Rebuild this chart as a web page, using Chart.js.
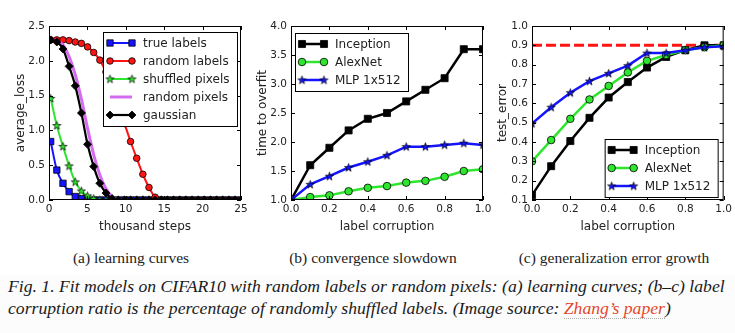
<!DOCTYPE html>
<html>
<head>
<meta charset="utf-8">
<script src="https://cdn.jsdelivr.net/npm/chart.js@4.4.1/dist/chart.umd.min.js"></script>
<style>
  body { margin: 0; background: #fcfcfc; }
  #page { position: relative; width: 735px; height: 333px; overflow: hidden; }
  #figure { position: absolute; left: 0; top: 0; width: 735px; height: 274px; background: #fff; }
  canvas { position: absolute; top: 0; }
  .sub { position: absolute; top: 248px; width: 220px; height: 20px; line-height: 20px;
         font-family: "Liberation Serif", serif; font-size: 15.5px; color: #222;
         text-align: center; white-space: nowrap; }
  .cap { position: absolute; left: 8px; height: 20px; line-height: 20px;
         font-family: "Liberation Serif", serif; font-style: italic; font-size: 17px;
         color: #1a1a1a; white-space: nowrap; }
  .cap a { color: #e3482c; text-decoration: none; border-bottom: 1px dotted #aaa; }
</style>
</head>
<body>
<div id="page">
  <div id="figure"></div>
  <canvas id="chartA" width="260" height="235" style="left:0px"></canvas>
  <canvas id="chartB" width="255" height="235" style="left:245px"></canvas>
  <canvas id="chartC" width="255" height="235" style="left:480px"></canvas>
  <div class="sub" style="left:21px">(a) learning curves</div>
  <div class="sub" style="left:263px">(b) convergence slowdown</div>
  <div class="sub" style="left:504px">(c) generalization error growth</div>
  <div class="cap" id="cap1" style="top:276px">Fig. 1. Fit models on CIFAR10 with random labels or random pixels: (a) learning curves; (b–c) label</div>
  <div class="cap" id="cap2" style="top:298px">corruption ratio is the percentage of randomly shuffled labels. (Image source: <a>Zhang’s paper</a>)</div>
</div>
<script>
// (a) learning curves, x in thousand steps
const steps = [0.22, 1.02, 1.82, 2.62, 3.42, 4.22, 5.02, 5.82, 6.62, 7.42, 8.22, 9.02, 9.82, 10.62, 11.42, 12.22,
               13.02, 13.82, 14.62, 15.42, 16.22, 17.02, 17.82, 18.62, 19.42, 20.22, 21.02, 21.82, 22.62, 23.42, 24.22, 25.02];
const trueLabels = [0.84, 0.43, 0.24, 0.12, 0.05, 0.02, 0.01, 0, 0, 0, 0, 0, 0, 0, 0, 0,
                    0, 0, 0, 0, 0, 0, 0, 0, 0, 0, 0, 0, 0, 0, 0, 0];
const randomLabels = [2.30, 2.30, 2.30, 2.29, 2.27, 2.25, 2.20, 2.12, 2.01, 1.84, 1.62, 1.37, 1.10, 0.84, 0.60, 0.37,
                      0.18, 0.04, 0, 0, 0, 0, 0, 0, 0, 0, 0, 0, 0, 0, 0, 0];
const shuffledPixels = [1.46, 1.07, 0.77, 0.49, 0.26, 0.13, 0.06, 0.02, 0, 0, 0, 0, 0, 0, 0, 0,
                        0, 0, 0, 0, 0, 0, 0, 0, 0, 0, 0, 0, 0, 0, 0, 0];
const randomPixels = [2.30, 2.29, 2.23, 2.06, 1.80, 1.45, 1.03, 0.65, 0.36, 0.16, 0.05, 0.01, 0, 0, 0, 0,
                      0, 0, 0, 0, 0, 0, 0, 0, 0, 0, 0, 0, 0, 0, 0, 0];
const gaussian = [2.30, 2.27, 2.17, 1.92, 1.64, 1.25, 0.80, 0.48, 0.24, 0.10, 0.02, 0, 0, 0, 0, 0,
                  0, 0, 0, 0, 0, 0, 0, 0, 0, 0, 0, 0, 0, 0, 0, 0];
const stepTicks = [0, 5, 10, 15, 20, 25];
const lossTicks = [0.0, 0.5, 1.0, 1.5, 2.0, 2.5];

// (b) and (c), x = label corruption
const corruption = [0.0, 0.1, 0.2, 0.3, 0.4, 0.5, 0.6, 0.7, 0.8, 0.9, 1.0];
const inceptionTime = [1.0, 1.6, 1.9, 2.2, 2.4, 2.5, 2.7, 2.9, 3.1, 3.6, 3.6];
const alexnetTime = [1.0, 1.05, 1.08, 1.15, 1.21, 1.24, 1.30, 1.33, 1.40, 1.50, 1.53];
const mlpTime = [1.0, 1.27, 1.41, 1.56, 1.66, 1.77, 1.92, 1.92, 1.95, 1.98, 1.95];
const inceptionErr = [0.125, 0.275, 0.405, 0.525, 0.63, 0.71, 0.785, 0.84, 0.875, 0.90, 0.90];
const alexnetErr = [0.30, 0.41, 0.52, 0.62, 0.69, 0.76, 0.82, 0.85, 0.875, 0.89, 0.90];
const mlpErr = [0.495, 0.58, 0.655, 0.715, 0.755, 0.795, 0.86, 0.86, 0.875, 0.89, 0.895];
const chanceError = 0.9;
const fracTicks = [0.0, 0.2, 0.4, 0.6, 0.8, 1.0];
const timeTicks = [1.0, 1.5, 2.0, 2.5, 3.0, 3.5, 4.0];
const errTicks = [0.1, 0.2, 0.3, 0.4, 0.5, 0.6, 0.7, 0.8, 0.9, 1.0];

const blue = '#1414ff', red = '#ff1414', green = '#2ee62e', violet = '#d56cf0', black = '#000';
const ink = '#222';
const tickFont = {family: 'DejaVu Sans', size: 10.5};
const titleFont = {family: 'DejaVu Sans', size: 12};

function starImage(fill) {
  const c = document.createElement('canvas');
  c.width = c.height = 11;
  const g = c.getContext('2d');
  g.beginPath();
  for (let i = 0; i < 10; i++) {
    const r = i % 2 ? 1.7 : 4.3, a = -Math.PI / 2 + i * Math.PI / 5;
    g.lineTo(5.5 + r * Math.cos(a), 5.8 + r * Math.sin(a));
  }
  g.closePath();
  g.fillStyle = fill; g.fill();
  g.strokeStyle = '#000'; g.lineWidth = 0.7; g.stroke();
  return c;
}

function series(label, xs, ys, style) {
  return Object.assign({
    label, data: xs.map((x, i) => ({x, y: ys[i]})),
    fill: false, pointHoverRadius: 0, pointBorderColor: '#000', pointBorderWidth: 0.8
  }, style);
}

function xAxis(min, max, values, digits, title) {
  return {
    type: 'linear', min, max,
    grid: {display: false, drawTicks: false}, border: {display: false},
    afterBuildTicks: s => { s.ticks = values.map(v => ({value: v})); },
    afterFit: s => { s.height = 35; },
    ticks: {padding: 3, color: ink, font: tickFont, maxRotation: 0, autoSkip: false,
            callback: v => v.toFixed(digits)},
    title: {display: true, text: title, color: ink, font: titleFont, padding: {top: 0, bottom: 0.5}}
  };
}

function yAxis(min, max, values, width, titlePad, title) {
  return {
    type: 'linear', min, max,
    grid: {display: false, drawTicks: false}, border: {display: false},
    afterBuildTicks: s => { s.ticks = values.map(v => ({value: v})); },
    afterFit: s => { s.width = width; },
    ticks: {padding: 4, color: ink, font: tickFont, autoSkip: false, callback: v => v.toFixed(1)},
    title: {display: true, text: title, color: ink, font: titleFont, padding: {top: titlePad, bottom: 0}}
  };
}

function drawLegend(chart, opts) {
  const {ctx, chartArea: a} = chart;
  const sets = chart.data.datasets.filter(d => d.label);
  ctx.save();
  ctx.font = '12px "DejaVu Sans"';
  const textW = Math.max(...sets.map(d => ctx.measureText(d.label).width));
  const rowH = 17.8;
  const w = Math.round(40 + textW + 7), h = Math.round(sets.length * rowH + 5);
  const bx = opts.corner[1] === 'r' ? a.right - opts.dx - w : a.left + opts.dx;
  const by = opts.corner[0] === 't' ? a.top + opts.dy : a.bottom - opts.dy - h;
  ctx.fillStyle = '#fff';
  ctx.fillRect(bx, by, w, h);
  ctx.strokeStyle = '#000';
  ctx.lineWidth = 1;
  ctx.strokeRect(bx + 0.5, by + 0.5, w, h);
  sets.forEach((d, i) => {
    const cy = Math.round(by + 2.5 + rowH * (i + 0.5));
    ctx.strokeStyle = d.borderColor;
    ctx.lineWidth = d.borderWidth;
    ctx.beginPath();
    ctx.moveTo(bx + 7, cy); ctx.lineTo(bx + 29, cy);
    ctx.stroke();
    if (d.pointRadius > 0 && Chart.helpers && Chart.helpers.drawPoint) {
      [bx + 7, bx + 29].forEach(px => {
        ctx.fillStyle = d.pointBackgroundColor;
        ctx.strokeStyle = d.pointBorderColor;
        ctx.lineWidth = d.pointBorderWidth;
        Chart.helpers.drawPoint(ctx, {pointStyle: d.pointStyle, radius: d.pointRadius, rotation: 0,
                                      borderWidth: d.pointBorderWidth}, px, cy);
      });
    }
    ctx.fillStyle = ink;
    ctx.textBaseline = 'middle';
    ctx.textAlign = 'left';
    ctx.fillText(d.label, bx + 40, cy + 0.5);
  });
  ctx.restore();
}

// axes box, inward ticks on all four sides, then the legend on top
const framePlugin = {
  id: 'frame',
  afterDatasetsDraw(chart, args, opts) {
    const {ctx, chartArea: a, scales} = chart;
    ctx.save();
    ctx.strokeStyle = '#000';
    ctx.lineWidth = 1;
    ctx.beginPath();
    scales.x.ticks.forEach(t => {
      const p = Math.round(scales.x.getPixelForValue(t.value)) + 0.5;
      ctx.moveTo(p, a.bottom); ctx.lineTo(p, a.bottom - 4);
      ctx.moveTo(p, a.top); ctx.lineTo(p, a.top + 4);
    });
    scales.y.ticks.forEach(t => {
      const p = Math.round(scales.y.getPixelForValue(t.value)) + 0.5;
      ctx.moveTo(a.left, p); ctx.lineTo(a.left + 4, p);
      ctx.moveTo(a.right, p); ctx.lineTo(a.right - 4, p);
    });
    ctx.stroke();
    ctx.strokeRect(a.left + 0.5, a.top + 0.5, a.right - a.left - 1, a.bottom - a.top - 1);
    ctx.restore();
    drawLegend(chart, opts);
  }
};

function makeChart(id, datasets, x, y, padRight, legend) {
  return new Chart(document.getElementById(id), {
    type: 'line',
    data: {datasets},
    options: {
      responsive: false, animation: false, events: [],
      layout: {padding: {left: 0, top: 26, right: padRight, bottom: 0}},
      scales: {x, y},
      plugins: {legend: {display: false}, tooltip: {enabled: false}, frame: legend}
    },
    plugins: [framePlugin]
  });
}

const greenStar = starImage(green), blueStar = starImage(blue);

makeChart('chartA', [
  series('true labels', steps, trueLabels, {borderColor: blue, borderWidth: 2, pointStyle: 'rect', pointRadius: 4.5,
         pointBackgroundColor: blue, cubicInterpolationMode: 'monotone', order: 4}),
  series('random labels', steps, randomLabels, {borderColor: red, borderWidth: 2, pointStyle: 'circle', pointRadius: 3.3,
         pointBackgroundColor: red, cubicInterpolationMode: 'monotone', order: 3}),
  series('shuffled pixels', steps, shuffledPixels, {borderColor: green, borderWidth: 2, pointStyle: greenStar, pointRadius: 4,
         pointBackgroundColor: green, cubicInterpolationMode: 'monotone', order: 2}),
  series('random pixels', steps, randomPixels, {borderColor: violet, borderWidth: 3, pointRadius: 0,
         cubicInterpolationMode: 'monotone', order: 1}),
  series('gaussian', steps, gaussian, {borderColor: black, borderWidth: 2.2, pointStyle: 'rectRot', pointRadius: 4,
         pointBackgroundColor: black, cubicInterpolationMode: 'monotone', order: 0})
], xAxis(0, 25, stepTicks, 0, 'thousand steps'), yAxis(0, 2.5, lossTicks, 49, 13.5, 'average_loss'), 19,
   {corner: 'tr', dx: 4, dy: 6});

makeChart('chartB', [
  series('Inception', corruption, inceptionTime, {borderColor: black, borderWidth: 2.5, pointStyle: 'rect', pointRadius: 5,
         pointBackgroundColor: black, order: 2}),
  series('AlexNet', corruption, alexnetTime, {borderColor: green, borderWidth: 2.5, pointStyle: 'circle', pointRadius: 3.8,
         pointBackgroundColor: green, order: 1}),
  series('MLP 1x512', corruption, mlpTime, {borderColor: blue, borderWidth: 2.5, pointStyle: blueStar, pointRadius: 4,
         pointBackgroundColor: blue, order: 0})
], xAxis(0, 1, fracTicks, 1, 'label corruption'), yAxis(1, 4, timeTicks, 46, 10.5, 'time to overfit'), 17,
   {corner: 'tl', dx: 4, dy: 7});

makeChart('chartC', [
  series('', [0, 1], [chanceError, chanceError], {borderColor: red, borderWidth: 3, borderDash: [10, 4], pointRadius: 0, order: 3}),
  series('Inception', corruption, inceptionErr, {borderColor: black, borderWidth: 2.5, pointStyle: 'rect', pointRadius: 5,
         pointBackgroundColor: black, order: 2}),
  series('AlexNet', corruption, alexnetErr, {borderColor: green, borderWidth: 2.5, pointStyle: 'circle', pointRadius: 3.8,
         pointBackgroundColor: green, order: 1}),
  series('MLP 1x512', corruption, mlpErr, {borderColor: blue, borderWidth: 2.5, pointStyle: blueStar, pointRadius: 4,
         pointBackgroundColor: blue, order: 0})
], xAxis(0, 1, fracTicks, 1, 'label corruption'), yAxis(0.1, 1.0, errTicks, 52, 16, 'test_error'), 10,
   {corner: 'br', dx: 6, dy: 3});

// make the first caption line span the same width as in the figure
const cap1 = document.getElementById('cap1');
const k = 717 / cap1.getBoundingClientRect().width;
document.querySelectorAll('.cap').forEach(el => { el.style.fontSize = (17 * k).toFixed(2) + 'px'; });
</script>
</body>
</html>
